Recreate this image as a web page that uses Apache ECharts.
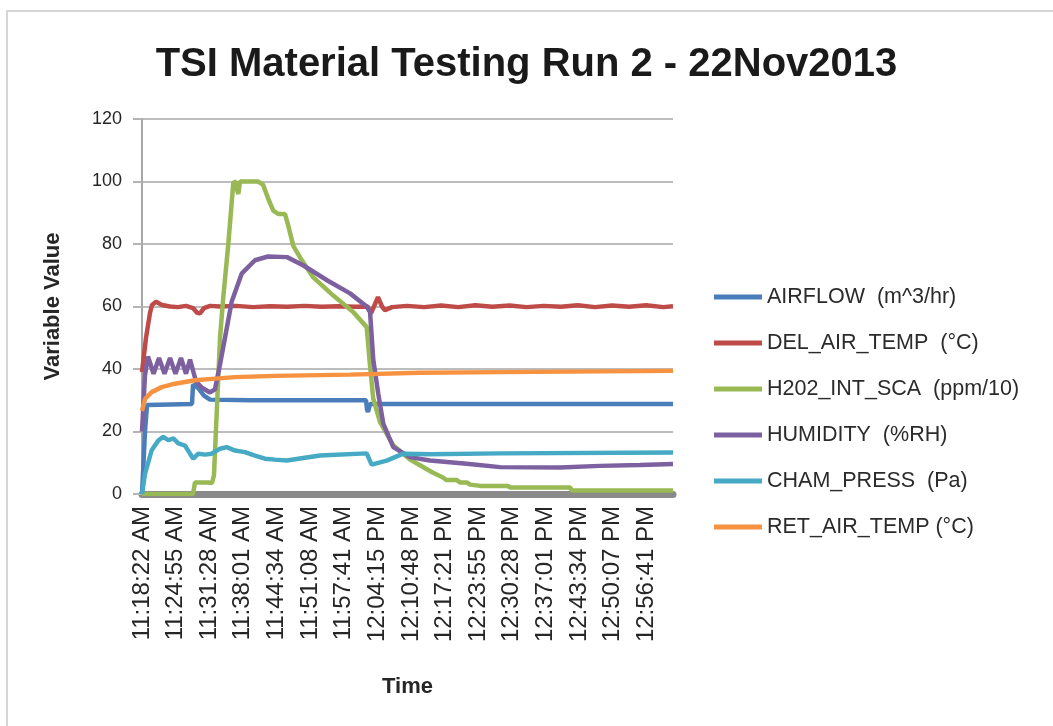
<!DOCTYPE html>
<html>
<head>
<meta charset="utf-8">
<title>TSI Material Testing Run 2</title>
<script src="https://cdn.jsdelivr.net/npm/echarts@6/dist/echarts.min.js"></script>
<style>
  html, body { margin: 0; padding: 0; background: #fff; }
  #chart { width: 1053px; height: 726px; }
</style>
</head>
<body>
<div id="chart"></div>
<script>
// x values are seconds after 11:18:22 AM
var timeLabels = ['11:18:22 AM', '11:24:55 AM', '11:31:28 AM', '11:38:01 AM', '11:44:34 AM',
  '11:51:08 AM', '11:57:41 AM', '12:04:15 PM', '12:10:48 PM', '12:17:21 PM', '12:23:55 PM',
  '12:30:28 PM', '12:37:01 PM', '12:43:34 PM', '12:50:07 PM', '12:56:41 PM'];
var tickStep = 393.33;
var endTime = 6213;

var airflow = [[0,0],[35,20],[59,28.5],[585,28.8],[597,35],[655,34],[725,31.5],[796,30.2],
  [1264,30],[2621,30],[2633,27],[2644,26.3],[2668,28.8],[6213,28.8]];

var delAirTemp = [[0,39],[47,50],[94,58],[117,60.5],[164,61.5],[234,60.5],[328,60],[421,59.8],
  [515,60.2],[597,59.5],[644,58],[679,57.8],[725,59.5],[796,60.2],[913,60],[1100,60.2],
  [1300,59.8],[1500,60.1],[1700,59.9],[1900,60.2],[2100,59.9],[2300,60.1],[2500,59.9],
  [2640,60],[2679,57.8],[2714,60],[2761,63],[2808,60],[2843,58.8],[2925,59.8],[3100,60.2],
  [3300,59.8],[3500,60.3],[3700,59.8],[3900,60.4],[4100,59.9],[4300,60.3],[4500,59.8],
  [4700,60.2],[4900,59.9],[5100,60.4],[5300,59.8],[5500,60.3],[5700,59.9],[5900,60.4],
  [6100,59.8],[6213,60.1]];

var h2o2 = [[0,0],[597,0],[620,3.7],[772,3.7],[819,3.5],[842,6],[913,50],[951,63],[1010,80],
  [1068,99.5],[1100,100],[1115,97],[1127,96],[1147,100],[1357,100],[1416,99],[1478,94.4],
  [1536,90.7],[1595,89.6],[1673,89.6],[1712,85.8],[1770,79.4],[1849,75.7],[2004,69.3],
  [2238,63.5],[2472,58.2],[2629,53.4],[2668,41],[2706,30.5],[2785,23],[2940,15.6],[3136,11],
  [3253,9.2],[3405,6.8],[3522,5.3],[3560,4.5],[3680,4.5],[3720,3.7],[3800,3.7],[3840,3],
  [3955,2.6],[4282,2.6],[4306,2.1],[5008,2.1],[5031,1.1],[6213,1.1]];

var humidity = [[0,20],[35,38],[70,44],[135,38.5],[199,43.5],[263,38.5],[328,43.5],[392,38.5],
  [456,43.5],[515,38.5],[562,43],[632,36],[702,34],[796,32.5],[854,33.5],[913,41.5],[971,50],
  [1049,61.5],[1166,70.5],[1322,74.8],[1474,76],[1697,75.8],[1884,73.2],[2165,68.4],
  [2434,64.2],[2629,60],[2668,58.3],[2706,43],[2765,32],[2823,22.5],[2940,15],[3136,11.8],
  [3370,10.7],[3799,9.7],[4189,8.6],[4891,8.5],[5359,9],[5827,9.3],[6213,9.6]];

var chamPress = [[0,0],[35,6.4],[113,14],[191,17.1],[249,18.3],[308,17.2],[366,17.8],[425,16.2],
  [503,15.5],[562,12.9],[600,11.3],[659,12.9],[737,12.6],[815,12.9],[913,14.5],[991,15],
  [1088,13.9],[1205,13.4],[1322,12.3],[1439,11.3],[1556,11],[1693,10.7],[2083,12.3],
  [2629,13],[2687,9.4],[2863,10.7],[3057,12.9],[3370,12.7],[4189,13],[6213,13.3]];

var retAirTemp = [[0,26.6],[35,30.4],[113,32.6],[230,34.2],[386,35.3],[620,36.4],[893,37],
  [1088,37.4],[1556,37.8],[2434,38.2],[3253,38.8],[4189,39],[6213,39.4]];

var seriesNames = ['AIRFLOW  (m^3/hr)', 'DEL_AIR_TEMP  (\u00B0C)', 'H202_INT_SCA  (ppm/10)',
  'HUMIDITY  (%RH)', 'CHAM_PRESS  (Pa)', 'RET_AIR_TEMP (\u00B0C)'];
var seriesData = [airflow, delAirTemp, h2o2, humidity, chamPress, retAirTemp];
var colors = ['#4A7EBB', '#BE4B48', '#98B954', '#7D60A0', '#46AAC5', '#F69240'];

var font = '"Liberation Sans", Arial, sans-serif';

var chart = echarts.init(document.getElementById('chart'));

var series = [];
for (var i = 0; i < seriesNames.length; i++) {
  series.push({
    name: seriesNames[i],
    type: 'line',
    data: seriesData[i],
    symbol: 'none',
    lineStyle: { width: 4.5, color: colors[i] },
    itemStyle: { color: colors[i] }
  });
}

var option = {
  backgroundColor: '#fff',
  animation: false,
  color: colors,
  title: {
    text: 'TSI Material Testing Run 2 - 22Nov2013',
    left: 'center',
    top: 40,
    textStyle: { fontFamily: font, fontSize: 40, fontWeight: 'bold', color: '#1a1a1a' }
  },
  graphic: [{
    type: 'rect',
    shape: { x: 7, y: 11, width: 1100, height: 800 },
    style: { fill: 'none', stroke: '#d6d6d6', lineWidth: 2 },
    silent: true
  }],
  legend: {
    orient: 'vertical',
    left: 709,
    top: 281,
    itemWidth: 48,
    itemHeight: 20,
    itemGap: 24,
    icon: 'path://M0,7.5 L48,7.5 L48,12.5 L0,12.5 Z',
    textStyle: { fontFamily: font, fontSize: 21.5, color: '#2b2b2b' },
    data: seriesNames
  },
  grid: { left: 142, right: 380, top: 119, bottom: 232 },
  xAxis: {
    type: 'value',
    min: 0,
    max: endTime,
    interval: tickStep,
    name: 'Time',
    nameLocation: 'middle',
    nameGap: 182,
    nameTextStyle: { fontFamily: font, fontSize: 22, fontWeight: 'bold', color: '#262626' },
    axisLine: { show: true, lineStyle: { color: '#8a8a8a', width: 7 } },
    axisTick: { show: false },
    splitLine: { show: false },
    axisLabel: {
      rotate: 90,
      margin: 12,
      fontFamily: font,
      fontSize: 24,
      color: '#262626',
      formatter: function (v) {
        var k = Math.round(v / tickStep);
        if (Math.abs(v - k * tickStep) < 1 && k < timeLabels.length) return timeLabels[k];
        return '';
      }
    }
  },
  yAxis: {
    type: 'value',
    min: 0,
    max: 120,
    interval: 20,
    name: 'Variable Value',
    nameLocation: 'middle',
    nameGap: 78,
    nameTextStyle: { fontFamily: font, fontSize: 22, fontWeight: 'bold', color: '#262626' },
    axisLine: { show: true, lineStyle: { color: '#a6a6a6', width: 2 } },
    axisTick: { show: true, length: 9, lineStyle: { color: '#b5b5b5', width: 2 } },
    splitLine: { lineStyle: { color: '#bdbdbd', width: 2 } },
    axisLabel: { fontFamily: font, fontSize: 18, color: '#262626', margin: 20 }
  },
  series: series
};

chart.setOption(option);
</script>
</body>
</html>
